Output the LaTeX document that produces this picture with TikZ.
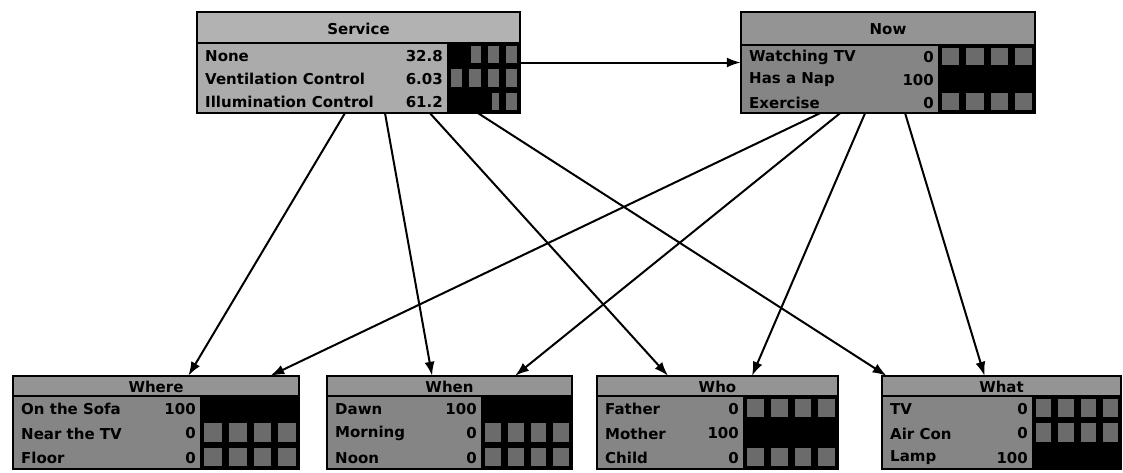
\documentclass[tikz,border=0pt]{standalone}
\usepackage{fontspec}
\setmainfont{DejaVu Sans}
\usetikzlibrary{fit,calc,arrows.meta}

\tikzset{
  boxtext/.style={font=\bfseries\fontsize{15}{15}\selectfont, inner sep=0pt, text=black},
  netlabel/.style={boxtext, anchor=west},
  netvalue/.style={boxtext, anchor=east},
  nettitle/.style={boxtext},
  stripe/.style={fill=black!58},
  frame/.style={draw=black, line width=2pt},
  link/.style={draw=black, line width=2pt, -{Latex[length=14pt,width=10pt]}},
  bodyfill/.style={fill=black!48},
  headfill/.style={fill=black!42},
}

% One belief box: name, left, top, right, header bottom, bottom, bar left, title, rows
\newcommand\bnbox[9]{%
  \coordinate (#1-nw) at (#2,#3);
  \coordinate (#1-se) at (#4,#6);
  \node[inner sep=0pt, fit=(#1-nw)(#1-se)] (#1) {};
  \fill[bodyfill] (#1.north west) rectangle (#1.south east);
  \fill[headfill] (#2,#3) rectangle (#4,#5);
  \node[nettitle] (#1-t) at ({(#2+#4)/2},{(#3+#5)/2+1}) {#8};
  \fill[black] (#7,#5) rectangle (#4,#6);
  \pgfmathsetmacro\rowh{(#6-#5)/3}
  \pgfmathsetmacro\colw{(#4-#7)/4}
  \foreach \lab/\val/\fr [count=\i] in {#9}{
    \pgfmathsetmacro\ytop{#5+(\i-1)*\rowh}
    \pgfmathsetmacro\ymid{\ytop+\rowh/2+1}
    \foreach \col in {0,...,3}{
      \fill[stripe] ({#7+\col*\colw+4},{\ytop+3}) rectangle ({#7+(\col+1)*\colw-3},{\ytop+\rowh-3});
    }
    \fill[black] (#7,\ytop) rectangle ({#7+\fr*(#4-#7)},{\ytop+\rowh});
    \node[netlabel] (#1-l\i) at ({#2+8},\ymid) {\lab};
    \node[netvalue] (#1-v\i) at ({#7-4},\ymid) {\val};
  }
  \draw[frame] (#2,#3) rectangle (#4,#6);
  \draw[frame] (#2,#5) -- (#4,#5);
}

\begin{document}
\begin{tikzpicture}[x=1pt,y=-1pt]
  \useasboundingbox (0,0) rectangle (1123,472);
  \fill[white] (0,0) rectangle (1123,472);

  % parent nodes
  \begin{scope}[bodyfill/.style={fill=black!33}, headfill/.style={fill=black!30}]
    \bnbox{svc}{197}{12}{520}{43}{113}{447}{Service}
      {None/32.8/0.328, Ventilation Control/6.03/0.0603, Illumination Control/61.2/0.612}
  \end{scope}
  \bnbox{now}{741}{12}{1035}{45}{113}{938}{Now}
    {Watching TV/0/0, Has a Nap/100/1, Exercise/0/0}

  % child nodes
  \bnbox{where}{13}{376}{299}{396}{469}{200}{Where}
    {On the Sofa/100/1, Near the TV/0/0, Floor/0/0}
  \bnbox{when}{327}{376}{572}{396}{469}{481}{When}
    {Dawn/100/1, Morning/0/0, Noon/0/0}
  \bnbox{who}{597}{376}{838}{396}{469}{743}{Who}
    {Father/0/0, Mother/100/1, Child/0/0}
  \bnbox{what}{882}{376}{1121}{396}{469}{1032}{What}
    {TV/0/0, Air Con/0/0, Lamp/100/1}

  % dependencies
  \draw[link] (svc.east) -- (now.west);
  \draw[link] ($(svc.south west)!0.458!(svc.south east)$) -- ($(where.north west)!0.613!(where.north east)$);
  \draw[link] ($(svc.south west)!0.582!(svc.south east)$) -- ($(when.north west)!0.429!(when.north east)$);
  \draw[link] ($(svc.south west)!0.721!(svc.south east)$) -- ($(who.north west)!0.295!(who.north east)$);
  \draw[link] ($(svc.south west)!0.870!(svc.south east)$) -- ($(what.north west)!0.02!(what.north east)$);
  \draw[link] ($(now.south west)!0.269!(now.south east)$) -- ($(where.north west)!0.899!(where.north east)$);
  \draw[link] ($(now.south west)!0.337!(now.south east)$) -- ($(when.north west)!0.767!(when.north east)$);
  \draw[link] ($(now.south west)!0.422!(now.south east)$) -- ($(who.north west)!0.643!(who.north east)$);
  \draw[link] ($(now.south west)!0.558!(now.south east)$) -- ($(what.north west)!0.429!(what.north east)$);
\end{tikzpicture}
\end{document}
